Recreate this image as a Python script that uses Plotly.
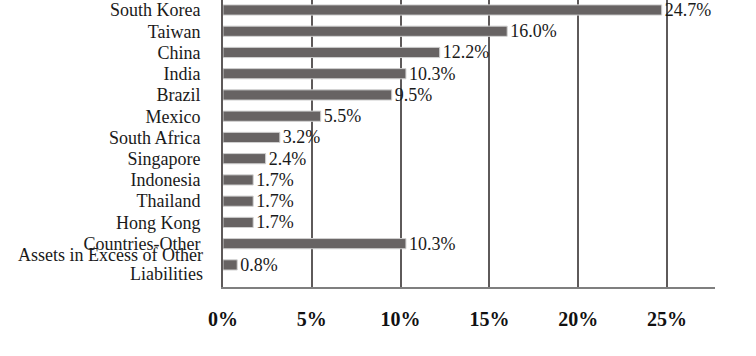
import plotly.graph_objects as go

categories = ["South Korea", "Taiwan", "China", "India", "Brazil", "Mexico", "South Africa",
              "Singapore", "Indonesia", "Thailand", "Hong Kong", "Countries-Other",
              "Assets in Excess of Other Liabilities"]
values = [24.7, 16.0, 12.2, 10.3, 9.5, 5.5, 3.2, 2.4, 1.7, 1.7, 1.7, 10.3, 0.8]
labels = [f"{v:.1f}%" for v in values]
tick_vals = [0, 5, 10, 15, 20, 25]
tick_text = ["0%", "5%", "10%", "15%", "20%", "25%"]
wrapped_label = ["Assets in Excess of Other", "Liabilities"]

FONT = "Liberation Serif"

fig = go.Figure(go.Bar(
    x=values, y=categories, orientation="h",
    marker=dict(color="#676363", line=dict(color="#d0d0d0", width=1)),
    width=0.48,
    text=labels, textposition="outside", cliponaxis=False, constraintext="none",
    textfont=dict(family=FONT, size=18, color="#1a1a1a"),
))

ytext = categories[:-1] + [""]

fig.update_layout(
    width=756, height=356,
    margin=dict(l=223, r=41, t=0, b=69),
    paper_bgcolor="white", plot_bgcolor="white",
    font=dict(family=FONT, size=18, color="#1a1a1a"),
    showlegend=False,
)
fig.update_xaxes(
    range=[0, 27.7], tickvals=tick_vals, ticktext=tick_text,
    tickfont=dict(family=FONT, size=20, color="#111111", weight="bold"),
    showgrid=True, gridcolor="#5e5a5a", gridwidth=2,
    showline=True, linecolor="#7f7f7f", linewidth=2,
    ticks="", ticklabelstandoff=13, zeroline=False,
)
fig.update_yaxes(
    categoryorder="array", categoryarray=categories,
    tickvals=categories, ticktext=ytext,
    range=[13.04, -0.47],
    showline=True, linecolor="#5e5a5a", linewidth=2,
    ticks="", ticklabelstandoff=17, showgrid=False,
    tickfont=dict(family=FONT, size=18, color="#1a1a1a"),
)
for i, line in enumerate(wrapped_label):
    fig.add_annotation(
        x=0, xref="paper", xanchor="right", xshift=-18,
        y=categories[-1], yref="y", yshift=10 - 19 * i, yanchor="middle",
        text=line, showarrow=False,
        font=dict(family=FONT, size=18, color="#1a1a1a"),
    )

fig.write_html("out.html")
